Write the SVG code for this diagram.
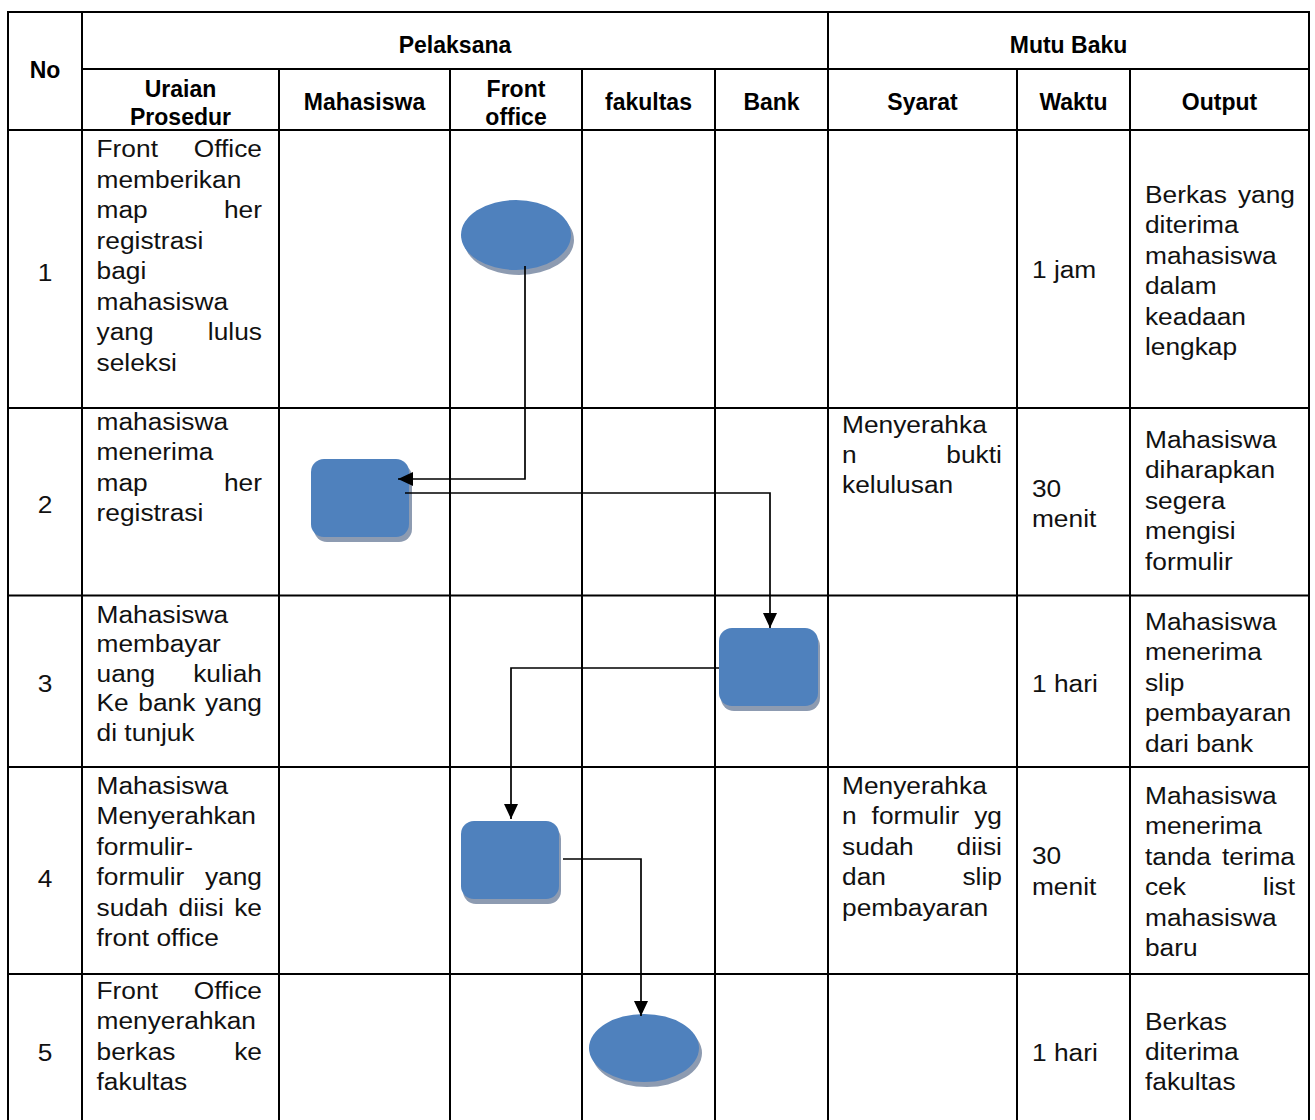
<svg xmlns="http://www.w3.org/2000/svg" width="1315" height="1120" viewBox="0 0 1315 1120">
<style>
.grid line{stroke:#000;stroke-width:2}
.hd{font-family:"Liberation Sans",Arial,sans-serif;font-weight:bold;font-size:23px;fill:#000;text-anchor:middle}
.b text{font-family:"Liberation Sans",Arial,sans-serif;font-size:23.5px;fill:#111}
.b text.r{text-anchor:end}
.b text.c{text-anchor:middle}
.shape{fill:#4F81BD}
.shadow{fill:#8D9BB1}
.conn path{fill:none;stroke:#000;stroke-width:1.7}
</style>
<defs>
<marker id="arr" viewBox="0 0 15 14" refX="15" refY="7" markerWidth="15" markerHeight="14" markerUnits="userSpaceOnUse" orient="auto">
<path d="M0,0 L15,7 L0,14 z" fill="#000"/>
</marker>
</defs>
<rect width="1315" height="1120" fill="#fff"/>
<g id="table" class="grid">
<line x1="7" y1="12" x2="1310" y2="12"/>
<line x1="82" y1="69" x2="1310" y2="69"/>
<line x1="7" y1="130" x2="1310" y2="130"/>
<line x1="7" y1="408" x2="1310" y2="408"/>
<line x1="7" y1="595.5" x2="1310" y2="595.5"/>
<line x1="7" y1="767" x2="1310" y2="767"/>
<line x1="7" y1="974" x2="1310" y2="974"/>
<line x1="8" y1="11" x2="8" y2="1120"/>
<line x1="82" y1="11" x2="82" y2="1120"/>
<line x1="279" y1="69" x2="279" y2="1120"/>
<line x1="450" y1="69" x2="450" y2="1120"/>
<line x1="582" y1="69" x2="582" y2="1120"/>
<line x1="715" y1="69" x2="715" y2="1120"/>
<line x1="828" y1="11" x2="828" y2="1120"/>
<line x1="1017" y1="69" x2="1017" y2="1120"/>
<line x1="1130" y1="69" x2="1130" y2="1120"/>
<line x1="1309" y1="11" x2="1309" y2="1120"/>
</g>
<g id="headers" class="hd">
<text x="45" y="78">No</text>
<text x="455" y="53">Pelaksana</text>
<text x="1068.5" y="53">Mutu Baku</text>
<text x="180.5" y="97">Uraian</text>
<text x="180.5" y="125">Prosedur</text>
<text x="364.5" y="110">Mahasiswa</text>
<text x="516" y="97">Front</text>
<text x="516" y="125">office</text>
<text x="648.5" y="110">fakultas</text>
<text x="771.5" y="110">Bank</text>
<text x="922.5" y="110">Syarat</text>
<text x="1073.5" y="110">Waktu</text>
<text x="1219.5" y="110">Output</text>
</g>
<g id="cells" class="b" transform="scale(1.12 1)">
<text class="c" x="40.2" y="281">1</text>
<text class="c" x="40.2" y="513">2</text>
<text class="c" x="40.2" y="692">3</text>
<text class="c" x="40.2" y="887">4</text>
<text class="c" x="40.2" y="1061">5</text>
<text x="86.2" y="157.5">Front</text><text class="r" x="233.9" y="157.5">Office</text>
<text x="86.2" y="188">memberikan</text>
<text x="86.2" y="218.5">map</text><text class="r" x="233.9" y="218.5">her</text>
<text x="86.2" y="249">registrasi</text>
<text x="86.2" y="279.5">bagi</text>
<text x="86.2" y="310">mahasiswa</text>
<text x="86.2" y="340.5">yang</text><text class="r" x="233.9" y="340.5">lulus</text>
<text x="86.2" y="371">seleksi</text>
<text x="86.2" y="430">mahasiswa</text>
<text x="86.2" y="460.5">menerima</text>
<text x="86.2" y="491">map</text><text class="r" x="233.9" y="491">her</text>
<text x="86.2" y="521.5">registrasi</text>
<text x="86.2" y="623">Mahasiswa</text>
<text x="86.2" y="652.5">membayar</text>
<text x="86.2" y="682">uang</text><text class="r" x="233.9" y="682">kuliah</text>
<text x="86.2" y="711.5">Ke</text><text x="123.5" y="711.5">bank</text><text class="r" x="233.9" y="711.5">yang</text>
<text x="86.2" y="741">di tunjuk</text>
<text x="86.2" y="794">Mahasiswa</text>
<text x="86.2" y="824.5">Menyerahkan</text>
<text x="86.2" y="855">formulir-</text>
<text x="86.2" y="885.5">formulir</text><text class="r" x="233.9" y="885.5">yang</text>
<text x="86.2" y="916">sudah</text><text x="159.4" y="916">diisi</text><text class="r" x="233.9" y="916">ke</text>
<text x="86.2" y="946.5">front office</text>
<text x="86.2" y="999">Front</text><text class="r" x="233.9" y="999">Office</text>
<text x="86.2" y="1029.5">menyerahkan</text>
<text x="86.2" y="1060">berkas</text><text class="r" x="233.9" y="1060">ke</text>
<text x="86.2" y="1090.5">fakultas</text>
<text x="751.8" y="433">Menyerahka</text>
<text x="751.8" y="463">n</text><text class="r" x="894.6" y="463">bukti</text>
<text x="751.8" y="493">kelulusan</text>
<text x="751.8" y="794">Menyerahka</text>
<text x="751.8" y="824.5">n</text><text x="778.2" y="824.5">formulir</text><text class="r" x="894.6" y="824.5">yg</text>
<text x="751.8" y="855">sudah</text><text class="r" x="894.6" y="855">diisi</text>
<text x="751.8" y="885.5">dan</text><text class="r" x="894.6" y="885.5">slip</text>
<text x="751.8" y="916">pembayaran</text>
<text x="921.4" y="278">1 jam</text>
<text x="921.4" y="497">30</text>
<text x="921.4" y="527">menit</text>
<text x="921.4" y="692">1 hari</text>
<text x="921.4" y="864.5">30</text>
<text x="921.4" y="895.5">menit</text>
<text x="921.4" y="1061">1 hari</text>
<text x="1022.3" y="203">Berkas</text><text class="r" x="1156.25" y="203">yang</text>
<text x="1022.3" y="233.5">diterima</text>
<text x="1022.3" y="264">mahasiswa</text>
<text x="1022.3" y="294.5">dalam</text>
<text x="1022.3" y="325">keadaan</text>
<text x="1022.3" y="355.5">lengkap</text>
<text x="1022.3" y="448">Mahasiswa</text>
<text x="1022.3" y="478.5">diharapkan</text>
<text x="1022.3" y="509">segera</text>
<text x="1022.3" y="539.5">mengisi</text>
<text x="1022.3" y="570">formulir</text>
<text x="1022.3" y="630">Mahasiswa</text>
<text x="1022.3" y="660.5">menerima</text>
<text x="1022.3" y="691">slip</text>
<text x="1022.3" y="721.5">pembayaran</text>
<text x="1022.3" y="752">dari bank</text>
<text x="1022.3" y="804">Mahasiswa</text>
<text x="1022.3" y="834.5">menerima</text>
<text x="1022.3" y="865">tanda</text><text class="r" x="1156.25" y="865">terima</text>
<text x="1022.3" y="895.5">cek</text><text class="r" x="1156.25" y="895.5">list</text>
<text x="1022.3" y="926">mahasiswa</text>
<text x="1022.3" y="956.5">baru</text>
<text x="1022.3" y="1030">Berkas</text>
<text x="1022.3" y="1060">diterima</text>
<text x="1022.3" y="1090">fakultas</text>
</g>
<g id="n1">
<ellipse class="shadow" cx="519" cy="240" rx="55" ry="35"/>
<ellipse class="shape" cx="516" cy="235" rx="55" ry="35"/>
</g>
<g id="n2">
<rect class="shadow" x="314" y="464" width="98" height="78" rx="13"/>
<rect class="shape" x="311" y="459" width="98" height="78" rx="13"/>
</g>
<g id="n3">
<rect class="shadow" x="721" y="633" width="99" height="78" rx="13"/>
<rect class="shape" x="719" y="628" width="99" height="78" rx="13"/>
</g>
<g id="n4">
<rect class="shadow" x="463" y="826" width="98" height="78" rx="13"/>
<rect class="shape" x="461" y="821" width="98" height="78" rx="13"/>
</g>
<g id="n5">
<ellipse class="shadow" cx="647" cy="1053" rx="55" ry="34"/>
<ellipse class="shape" cx="644" cy="1048" rx="55" ry="34"/>
</g>
<g id="connectors" class="conn">
<path d="M525,266 V479 H398" marker-end="url(#arr)"/>
<path d="M405,493 H770 V628" marker-end="url(#arr)"/>
<path d="M719,668 H511 V819" marker-end="url(#arr)"/>
<path d="M563,859 H641 V1016" marker-end="url(#arr)"/>
</g>
</svg>
